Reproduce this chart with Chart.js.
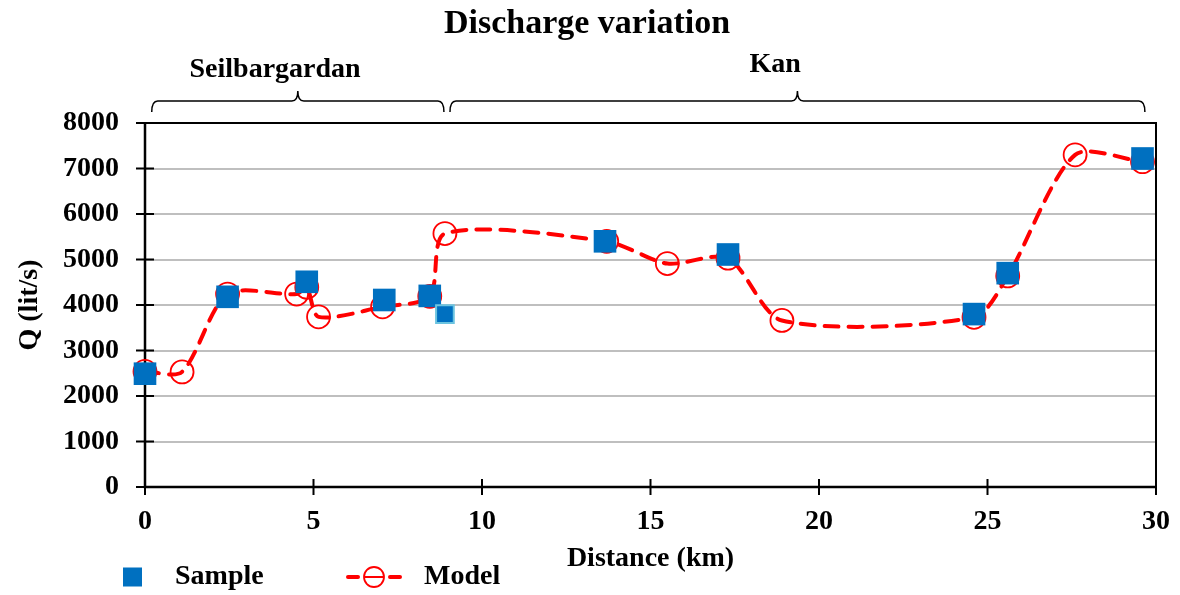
<!DOCTYPE html>
<html>
<head>
<meta charset="utf-8">
<script src="https://cdn.jsdelivr.net/npm/chart.js@4/dist/chart.umd.min.js"></script>
<style>
  body { margin: 0; background: #fff; }
  #wrap { width: 1180px; height: 595px; }
</style>
</head>
<body>
<div id="wrap"><canvas id="chart"></canvas></div>
<script>
// measured samples
const sampleKm = [0, 2.45, 4.8, 7.1, 8.45, 8.9, 13.65, 17.3, 24.6, 25.6, 29.6];
const sampleQ = [2490, 4180, 4510, 4110, 4200, 3800, 5400, 5110, 3800, 4700, 7220];
// model output
const modelKm = [0, 1.1, 2.45, 4.5, 4.8, 5.15, 7.05, 8.45, 8.9, 13.7, 15.5, 17.3, 18.9, 24.6, 25.6, 27.6, 29.6];
const modelQ = [2540, 2530, 4240, 4240, 4390, 3740, 3960, 4190, 5570, 5400, 4910, 5030, 3660, 3730, 4640, 7300, 7150];

const reachNames = ['Seilbargardan', 'Kan'];
const reachStartKm = [0.2, 9.05];
const reachEndKm = [8.87, 29.67];
const reachLabelKm = [3.86, 18.7];

const xTicks = [0, 5, 10, 15, 20, 25, 30];
const yTicks = [0, 1000, 2000, 3000, 4000, 5000, 6000, 7000, 8000];

const FONT = "'Liberation Serif', 'Times New Roman', serif";
const BLUE = '#0070c0';
const RED = '#ff0000';

const toPoints = (xs, ys) => xs.map((x, i) => ({ x: x, y: ys[i] }));

// the odd sample at the reach junction is drawn smaller with a light edge
const oddIdx = 5;
const sampleRadius = sampleKm.map((_, i) => i === oddIdx ? 12.5 : 16);
const sampleBorder = sampleKm.map((_, i) => i === oddIdx ? '#6cc4e0' : BLUE);
const sampleBorderW = sampleKm.map((_, i) => i === oddIdx ? 2 : 0);

function brace(ctx, x1, x2, y) {
  const xm = (x1 + x2) / 2;
  const r = 6;
  ctx.beginPath();
  ctx.moveTo(x1, y + 11);
  ctx.quadraticCurveTo(x1, y, x1 + r, y);
  ctx.lineTo(xm - r, y);
  ctx.quadraticCurveTo(xm, y, xm, y - 10);
  ctx.quadraticCurveTo(xm, y, xm + r, y);
  ctx.lineTo(x2 - r, y);
  ctx.quadraticCurveTo(x2, y, x2, y + 11);
  ctx.stroke();
}

const decor = {
  id: 'decor',
  beforeDatasetsDraw(chart) {
    const { ctx, chartArea: a, scales } = chart;
    ctx.save();
    // plot frame
    ctx.strokeStyle = '#000';
    ctx.lineWidth = 2;
    ctx.strokeRect(a.left, a.top, a.right - a.left, a.bottom - a.top);
    ctx.lineWidth = 2.5;
    ctx.beginPath();
    ctx.moveTo(a.left, a.top);
    ctx.lineTo(a.left, a.bottom);
    ctx.lineTo(a.right, a.bottom);
    ctx.stroke();
    // cross tick marks
    ctx.lineWidth = 2;
    ctx.beginPath();
    yTicks.forEach(v => {
      const py = scales.y.getPixelForValue(v);
      ctx.moveTo(a.left - 9, py);
      ctx.lineTo(a.left + 9, py);
    });
    xTicks.forEach(v => {
      const px = scales.x.getPixelForValue(v);
      ctx.moveTo(px, a.bottom - 8);
      ctx.lineTo(px, a.bottom + 8);
    });
    ctx.stroke();
    ctx.restore();
  },
  afterDraw(chart) {
    const { ctx, scales } = chart;
    ctx.save();
    ctx.fillStyle = '#000';
    ctx.textAlign = 'center';
    ctx.textBaseline = 'middle';
    ctx.font = 'bold 34px ' + FONT;
    ctx.fillText('Discharge variation', 587, 24);

    // reach braces
    ctx.strokeStyle = '#000';
    ctx.lineWidth = 1.5;
    ctx.font = 'bold 28px ' + FONT;
    reachNames.forEach((name, i) => {
      brace(ctx, scales.x.getPixelForValue(reachStartKm[i]), scales.x.getPixelForValue(reachEndKm[i]), 101);
      ctx.fillText(name, scales.x.getPixelForValue(reachLabelKm[i]), i === 0 ? 70 : 65);
    });

    // legend
    const ly = 577;
    ctx.fillStyle = BLUE;
    ctx.fillRect(123, ly - 9.5, 19, 19);
    ctx.strokeStyle = RED;
    ctx.lineWidth = 4;
    ctx.lineCap = 'round';
    ctx.beginPath();
    ctx.moveTo(348, ly); ctx.lineTo(358, ly);
    ctx.moveTo(390, ly); ctx.lineTo(400, ly);
    ctx.stroke();
    ctx.lineWidth = 1.8;
    ctx.beginPath();
    ctx.arc(374, ly, 10, 0, Math.PI * 2);
    ctx.moveTo(364, ly); ctx.lineTo(384, ly);
    ctx.stroke();
    ctx.fillStyle = '#000';
    ctx.textAlign = 'left';
    ctx.font = 'bold 28px ' + FONT;
    ctx.fillText('Sample', 175, ly);
    ctx.fillText('Model', 424, ly);
    ctx.restore();
  }
};

new Chart(document.getElementById('chart'), {
  type: 'line',
  data: {
    datasets: [
      {
        label: 'Sample',
        data: toPoints(sampleKm, sampleQ),
        showLine: false,
        clip: false,
        pointStyle: 'rect',
        pointRadius: sampleRadius,
        pointBackgroundColor: BLUE,
        pointBorderColor: sampleBorder,
        pointBorderWidth: sampleBorderW
      },
      {
        label: 'Model',
        data: toPoints(modelKm, modelQ),
        clip: false,
        borderColor: RED,
        borderWidth: 4,
        borderDash: [14, 10],
        borderCapStyle: 'round',
        tension: 0.27,
        pointStyle: 'circle',
        pointRadius: 11.5,
        pointBorderColor: RED,
        pointBackgroundColor: 'rgba(0,0,0,0)',
        pointBorderWidth: 1.8
      }
    ]
  },
  options: {
    responsive: true,
    maintainAspectRatio: false,
    animation: false,
    layout: { padding: { top: 123, right: 24, left: 0, bottom: 0 } },
    plugins: { legend: { display: false }, tooltip: { enabled: false } },
    scales: {
      x: {
        type: 'linear',
        min: 0, max: 30,
        grid: { display: false, drawTicks: false },
        border: { display: false },
        ticks: { stepSize: 5, padding: 18, color: '#000', font: { family: FONT, size: 28, weight: 'bold' } },
        title: { display: true, text: 'Distance (km)', color: '#000', padding: { top: 0, bottom: 19 }, font: { family: FONT, size: 28, weight: 'bold' } },
        afterFit: s => { s.height = 108; s.paddingLeft = 0; s.paddingRight = 0; }
      },
      y: {
        min: 0, max: 8000,
        grid: { color: '#bfbfbf', lineWidth: 2, drawTicks: false },
        border: { display: false },
        ticks: { stepSize: 1000, padding: 26, color: '#000', font: { family: FONT, size: 28, weight: 'bold' },
          callback: v => String(v) },
        title: { display: true, text: 'Q (lit/s)', color: '#000', padding: { top: 13, bottom: 0 }, font: { family: FONT, size: 28, weight: 'bold' } },
        afterFit: s => { s.width = 145; s.paddingTop = 0; s.paddingBottom = 0; }
      }
    }
  },
  plugins: [decor]
});
</script>
</body>
</html>
